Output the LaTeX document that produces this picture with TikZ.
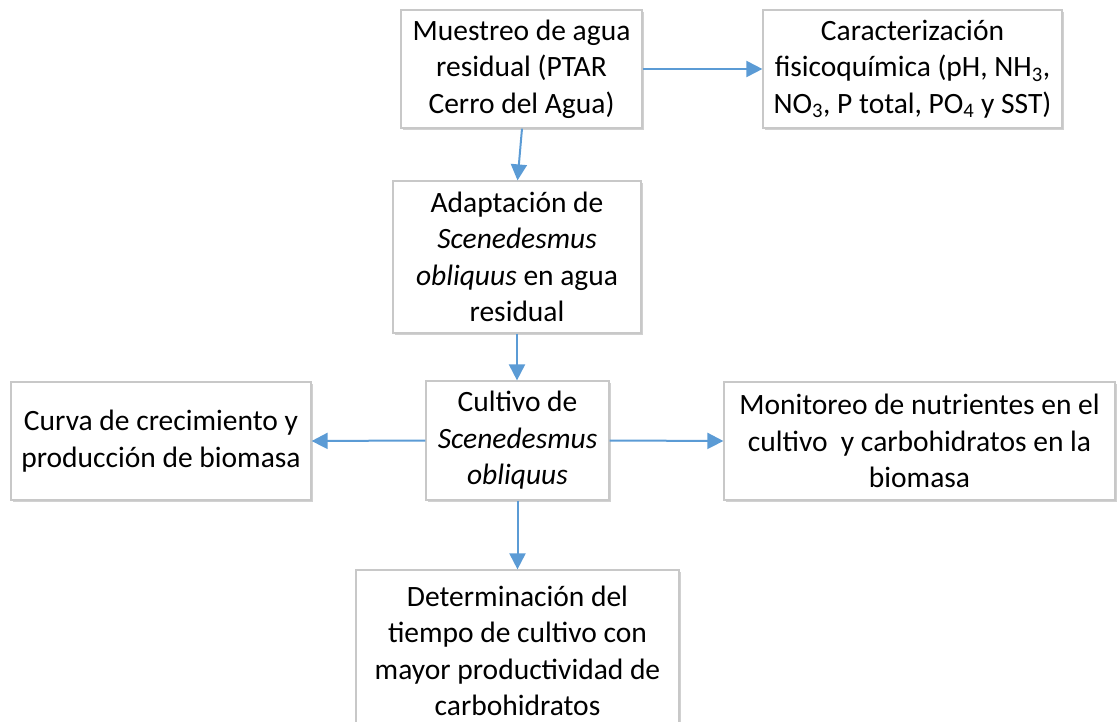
\documentclass[tikz,border=0pt]{standalone}
\usepackage{fontspec}
\setmainfont{Carlito}
\usetikzlibrary{arrows.meta,shadows}
\definecolor{arrowblue}{HTML}{5B9BD5}
\definecolor{boxgray}{HTML}{C8C8C8}
\begin{document}
\begin{tikzpicture}[x=1pt,y=-1pt,
  box/.style={draw=boxgray, line width=1.2pt, fill=white, align=center, inner sep=0pt,
    font=\fontsize{29.5}{36.5}\selectfont,
    drop shadow={shadow xshift=2pt, shadow yshift=-2pt, opacity=0.18, fill=black}},
  conn/.style={draw=arrowblue, line width=2pt, -{Triangle[length=16pt,width=16pt]}}]
\useasboundingbox (0,0) rectangle (1120,722);
\node[box, minimum width=241pt, minimum height=118pt] (mue) at (521.5,69) {Muestreo de agua\\residual (PTAR\\Cerro del Agua)};
\node[box, minimum width=299pt, minimum height=118pt] (car) at (912.5,69) {Caracterización\\fisicoquímica (pH, NH\textsubscript{3},\\NO\textsubscript{3}, P total, PO\textsubscript{4} y SST)};
\node[box, minimum width=248pt, minimum height=152pt] (ada) at (517,257) {Adaptación de\\\textit{Scenedesmus}\\\textit{obliquus} en agua\\residual};
\node[box, minimum width=183pt, minimum height=119pt] (cul) at (517.5,440.5) {Cultivo de\\\textit{Scenedesmus}\\\textit{obliquus}};
\node[box, minimum width=300pt, minimum height=118pt] (cur) at (161,441) {Curva de crecimiento y\\producción de biomasa};
\node[box, minimum width=391pt, minimum height=118pt] (mon) at (919.5,441) {Monitoreo de nutrientes en el\\cultivo\ \ y carbohidratos en la\\biomasa};
\node[box, minimum width=323pt, minimum height=162pt] (det) at (517.5,651) {Determinación del\\tiempo de cultivo con\\mayor productividad de\\carbohidratos};
\draw[conn] (mue.east) -- (car.west);
\draw[conn] ([xshift=0.5pt]mue.south) -- ([xshift=0.5pt]ada.north);
\draw[conn] (ada.south) -- (ada.south |- cul.north);
\draw[conn] (cul.west) -- (cur.east);
\draw[conn] (cul.east) -- (mon.west);
\draw[conn] (cul.south) -- (cul.south |- det.north);
\end{tikzpicture}
\end{document}
